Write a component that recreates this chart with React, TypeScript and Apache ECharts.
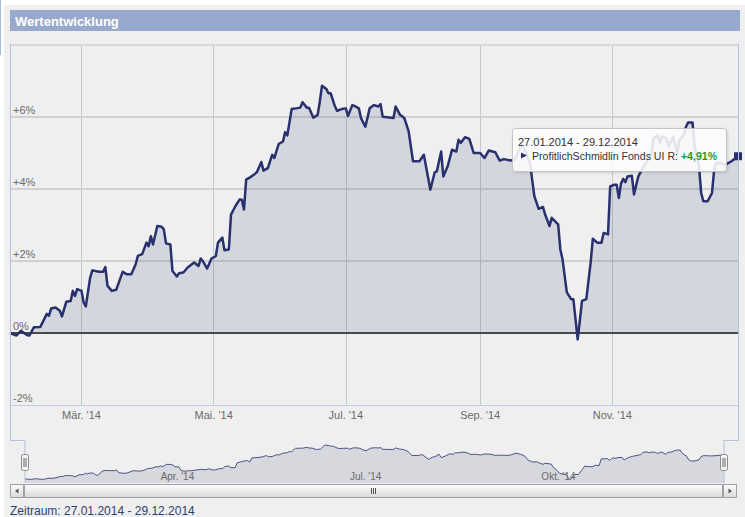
import React, { useEffect, useRef } from 'react';
import * as echarts from 'echarts';

const startDate = '2014-01-27';
const endDate = '2014-12-29';

const dates = [
  '2014-01-27','2014-01-30','2014-02-01','2014-02-04','2014-02-05','2014-02-07','2014-02-10','2014-02-13','2014-02-14','2014-02-15',
  '2014-02-17','2014-02-19','2014-02-20','2014-02-22','2014-02-24','2014-02-25','2014-02-26','2014-02-27','2014-03-01','2014-03-02',
  '2014-03-03','2014-03-05','2014-03-06','2014-03-09','2014-03-11','2014-03-12','2014-03-13','2014-03-15','2014-03-17','2014-03-20',
  '2014-03-22','2014-03-24','2014-03-26','2014-03-27','2014-03-29','2014-03-31','2014-04-01','2014-04-02','2014-04-03','2014-04-05',
  '2014-04-07','2014-04-08','2014-04-09','2014-04-11','2014-04-12','2014-04-14','2014-04-15','2014-04-17','2014-04-19','2014-04-22',
  '2014-04-24','2014-04-25','2014-04-26','2014-04-28','2014-04-30','2014-05-02','2014-05-03','2014-05-05','2014-05-06','2014-05-08',
  '2014-05-09','2014-05-11','2014-05-13','2014-05-14','2014-05-15','2014-05-16','2014-05-18','2014-05-20','2014-05-21','2014-05-23',
  '2014-05-24','2014-05-26','2014-05-28','2014-05-29','2014-05-31','2014-06-02','2014-06-03','2014-06-04','2014-06-06','2014-06-08',
  '2014-06-10','2014-06-11','2014-06-13','2014-06-14','2014-06-16','2014-06-18','2014-06-19','2014-06-20','2014-06-22','2014-06-23',
  '2014-06-24','2014-06-26','2014-06-27','2014-06-29','2014-07-01','2014-07-02','2014-07-04','2014-07-05','2014-07-07','2014-07-08',
  '2014-07-10','2014-07-12','2014-07-14','2014-07-16','2014-07-17','2014-07-18','2014-07-23','2014-07-24','2014-07-26','2014-07-28',
  '2014-07-30','2014-08-01','2014-08-04','2014-08-06','2014-08-09','2014-08-11','2014-08-12','2014-08-14','2014-08-15','2014-08-17',
  '2014-08-19','2014-08-21','2014-08-22','2014-08-23','2014-08-25','2014-08-27','2014-08-29','2014-09-01','2014-09-03','2014-09-05',
  '2014-09-08','2014-09-10','2014-09-12','2014-09-15','2014-09-17','2014-09-20','2014-09-22','2014-09-24','2014-09-26','2014-09-28',
  '2014-09-30','2014-10-01','2014-10-03','2014-10-04','2014-10-07','2014-10-08','2014-10-09','2014-10-11','2014-10-13','2014-10-14',
  '2014-10-15','2014-10-16','2014-10-17','2014-10-18','2014-10-20','2014-10-22','2014-10-23','2014-10-25','2014-10-27','2014-10-28',
  '2014-10-30','2014-10-31','2014-11-02','2014-11-03','2014-11-04','2014-11-05','2014-11-06','2014-11-07','2014-11-08','2014-11-10',
  '2014-11-11','2014-11-13','2014-11-15','2014-11-19','2014-11-20','2014-11-22','2014-11-23','2014-11-24','2014-11-26','2014-11-27',
  '2014-11-29','2014-12-01','2014-12-02','2014-12-04','2014-12-05','2014-12-06','2014-12-08','2014-12-09','2014-12-11','2014-12-12',
  '2014-12-13','2014-12-15','2014-12-17','2014-12-18','2014-12-19','2014-12-21','2014-12-23','2014-12-26','2014-12-29',
];

const values = [
  0.00, -0.07, 0.06, -0.06, -0.07, 0.16, 0.17, 0.53, 0.48, 0.68,
  0.71, 0.62, 0.46, 0.87, 0.89, 1.17, 1.03, 1.22, 1.17, 0.85,
  0.74, 1.54, 1.74, 1.70, 1.70, 1.83, 1.31, 1.17, 1.20, 1.70,
  1.63, 1.63, 1.91, 2.14, 2.19, 2.51, 2.41, 2.69, 2.46, 2.97,
  2.95, 2.88, 2.49, 2.46, 1.72, 1.57, 1.66, 1.68, 1.82, 1.96,
  1.86, 2.07, 2.00, 1.79, 2.07, 2.14, 2.51, 2.65, 2.30, 2.32,
  3.29, 3.52, 3.71, 3.70, 3.43, 4.26, 4.33, 4.42, 4.47, 4.75,
  4.51, 4.58, 4.95, 4.86, 5.25, 5.32, 5.58, 5.49, 6.22, 6.24,
  6.26, 6.41, 6.26, 6.26, 5.98, 6.06, 6.43, 6.87, 6.78, 6.66,
  6.66, 6.29, 6.17, 6.22, 6.24, 6.03, 6.33, 6.31, 6.24, 5.97,
  5.73, 6.24, 6.33, 6.29, 6.36, 6.01, 5.97, 6.29, 6.06, 5.97,
  5.60, 4.77, 4.77, 4.95, 3.98, 4.46, 4.49, 5.04, 4.35, 4.63,
  5.09, 5.04, 5.37, 5.28, 5.44, 5.39, 5.00, 5.00, 4.86, 5.07,
  5.02, 4.79, 4.83, 4.79, 4.81, 5.23, 5.04, 4.72, 3.80, 3.45,
  3.50, 3.29, 2.97, 3.20, 3.02, 2.32, 2.05, 1.13, 0.94, 0.94,
  0.39, -0.18, 0.34, 0.89, 0.94, 1.96, 2.62, 2.51, 2.51, 2.78,
  2.74, 4.07, 4.12, 4.12, 3.75, 4.15, 4.28, 4.19, 4.35, 4.37,
  3.85, 4.35, 4.58, 4.95, 5.41, 5.50, 5.28, 5.46, 5.41, 5.18,
  5.46, 5.00, 5.37, 5.50, 5.73, 5.85, 5.85, 5.18, 4.63, 3.89,
  3.66, 3.66, 3.89, 4.54, 4.72, 4.72, 4.67, 4.77, 4.91,
];

const monthTicks = ['2014-03-01', '2014-05-01', '2014-07-01', '2014-09-01', '2014-11-01'];
const monthLabels = ["Mär. '14", "Mai. '14", "Jul. '14", "Sep. '14", "Nov. '14"];
const navTicks = ['2014-04-01', '2014-07-01', '2014-10-01'];
const navLabels = ["Apr. '14", "Jul. '14", "Okt. '14"];

const titleText = 'Wertentwicklung';
const seriesName = 'ProfitlichSchmidlin Fonds UI R';
const periodText = '27.01.2014 - 29.12.2014';

const FONT = '"Liberation Sans", Arial, Helvetica, sans-serif';
const NAVY = '#28306e';

export default function App() {
  const ref = useRef<HTMLDivElement>(null);

  useEffect(() => {
    if (!ref.current) return;
    const chart = echarts.init(ref.current, null, { renderer: 'svg' });
    const data = dates.map((d, i) => [d, values[i]]);
    const lastValue = values[values.length - 1];
    const lastText = (lastValue >= 0 ? '+' : '') + lastValue.toFixed(2).replace('.', ',') + '%';

    const gridMarkLines: any[] = monthTicks.map((d, i) => [
      { coord: [d, -2], name: monthLabels[i] },
      { coord: [d, 8] },
    ]);
    gridMarkLines.push([
      { coord: [startDate, 0], name: '', lineStyle: { color: '#4a4a4a', width: 2 }, label: { show: false } },
      { coord: [endDate, 0] },
    ]);

    const btnGrad = new echarts.graphic.LinearGradient(0, 0, 0, 1, [
      { offset: 0, color: '#fdfdfd' },
      { offset: 1, color: '#d9d9d9' },
    ]);

    const option: any = {
      animation: false,
      backgroundColor: '#eeefee',
      textStyle: { fontFamily: FONT },
      grid: [
        { left: 10, top: 45, width: 728, height: 360, show: false },
        { left: 25, top: 440, width: 699, height: 43, show: false },
      ],
      xAxis: [
        {
          type: 'time', gridIndex: 0, min: startDate, max: endDate,
          axisLine: { show: false }, axisTick: { show: false }, axisLabel: { show: false }, splitLine: { show: false },
        },
        {
          type: 'time', gridIndex: 1, min: startDate, max: endDate,
          axisLine: { show: false }, axisTick: { show: false }, axisLabel: { show: false }, splitLine: { show: false },
        },
      ],
      yAxis: [
        {
          type: 'value', gridIndex: 0, min: -2, max: 8, interval: 2,
          axisLine: { show: false }, axisTick: { show: false },
          axisLabel: {
            inside: true, margin: 3, color: '#6b6b6b', fontSize: 11, fontFamily: FONT,
            verticalAlign: 'bottom', padding: [0, 0, 2, 0],
            formatter: (v: number) => (v === 8 ? '' : (v > 0 ? '+' : '') + v + '%'),
          },
          splitLine: { show: true, showMinLine: false, showMaxLine: false, lineStyle: { color: '#d0d1d0', width: 2 } },
        },
        {
          type: 'value', gridIndex: 1, min: -0.8, max: 7.9,
          axisLine: { show: false }, axisTick: { show: false }, axisLabel: { show: false }, splitLine: { show: false },
        },
      ],
      series: [
        {
          type: 'line', name: seriesName, xAxisIndex: 0, yAxisIndex: 0, data,
          showSymbol: false, z: 3,
          lineStyle: { color: NAVY, width: 2.5, join: 'round' },
          itemStyle: { color: NAVY },
          areaStyle: { color: NAVY, opacity: 0.13, origin: 0 },
          markLine: {
            silent: true, symbol: 'none', z: 1,
            lineStyle: { color: '#c6c7c8', width: 1, type: 'solid' },
            label: { show: true, position: 'start', distance: 4, color: '#6b6b6b', fontSize: 11, fontFamily: FONT, formatter: (p: any) => p.name },
            data: gridMarkLines,
          },
          markPoint: {
            silent: true,
            data: [{ coord: [endDate, lastValue], symbol: 'rect', symbolSize: 8, itemStyle: { color: NAVY }, label: { show: false } }],
          },
        },
        {
          type: 'line', xAxisIndex: 1, yAxisIndex: 1, data,
          showSymbol: false, silent: true,
          lineStyle: { color: '#4d5289', width: 1 },
          areaStyle: { color: NAVY, opacity: 0.12, origin: 'start' },
          markPoint: {
            silent: true,
            symbol: 'rect', symbolSize: 1,
            itemStyle: { color: 'rgba(0,0,0,0)' },
            label: { show: true, position: 'right', distance: 2, color: '#6b6b6b', fontSize: 10, fontFamily: FONT, formatter: (p: any) => p.name },
            data: navTicks.map((d, i) => ({ coord: [d, 0.6], name: navLabels[i] })),
          },
        },
      ],
      graphic: [
        // page edges
        { type: 'rect', z: 50, shape: { x: 0, y: 0, width: 745, height: 5 }, style: { fill: '#ffffff' }, silent: true },
        { type: 'rect', z: 50, shape: { x: 0, y: 0, width: 4, height: 517 }, style: { fill: '#ffffff' }, silent: true },
        { type: 'line', z: 51, shape: { x1: 0.5, y1: 0, x2: 0.5, y2: 55 }, style: { stroke: '#a9bbdc', lineWidth: 1 }, silent: true },
        // title bar
        { type: 'rect', z: 50, shape: { x: 10, y: 10, width: 730, height: 21 }, style: { fill: '#99a9cd' }, silent: true },
        { type: 'text', z: 51, x: 15, y: 21, style: { text: titleText, fill: '#ffffff', font: `bold 13px ${FONT}`, verticalAlign: 'middle' }, silent: true },
        // plot frame
        { type: 'line', z: 20, shape: { x1: 10, y1: 45, x2: 738, y2: 45 }, style: { stroke: '#d0d1d0', lineWidth: 1.5 }, silent: true },
        { type: 'line', z: 20, shape: { x1: 10.5, y1: 44, x2: 10.5, y2: 441 }, style: { stroke: '#b3c1de', lineWidth: 1 }, silent: true },
        { type: 'line', z: 20, shape: { x1: 738.5, y1: 44, x2: 738.5, y2: 441 }, style: { stroke: '#b3c1de', lineWidth: 1 }, silent: true },
        { type: 'line', z: 20, shape: { x1: 10, y1: 405.5, x2: 738, y2: 405.5 }, style: { stroke: '#c0cce6', lineWidth: 1 }, silent: true },
        // navigator outline
        { type: 'polyline', z: 20, shape: { points: [[10, 440.5], [25, 440.5], [25, 483]] }, style: { stroke: '#b3c1de', lineWidth: 1, fill: null }, silent: true },
        { type: 'polyline', z: 20, shape: { points: [[738, 440.5], [724, 440.5], [724, 483]] }, style: { stroke: '#b3c1de', lineWidth: 1, fill: null }, silent: true },
        // navigator handles
        { type: 'rect', z: 30, shape: { x: 21.5, y: 454.5, width: 7, height: 16, r: 2 }, style: { fill: '#f4f4f4', stroke: '#8a8a8a', lineWidth: 1 }, silent: true },
        { type: 'line', z: 31, shape: { x1: 24, y1: 458, x2: 24, y2: 467 }, style: { stroke: '#666', lineWidth: 1 }, silent: true },
        { type: 'line', z: 31, shape: { x1: 26, y1: 458, x2: 26, y2: 467 }, style: { stroke: '#666', lineWidth: 1 }, silent: true },
        { type: 'rect', z: 30, shape: { x: 720.5, y: 454.5, width: 7, height: 16, r: 2 }, style: { fill: '#f4f4f4', stroke: '#8a8a8a', lineWidth: 1 }, silent: true },
        { type: 'line', z: 31, shape: { x1: 723, y1: 458, x2: 723, y2: 467 }, style: { stroke: '#666', lineWidth: 1 }, silent: true },
        { type: 'line', z: 31, shape: { x1: 725, y1: 458, x2: 725, y2: 467 }, style: { stroke: '#666', lineWidth: 1 }, silent: true },
        // scrollbar
        { type: 'rect', z: 30, shape: { x: 10.5, y: 484.5, width: 726, height: 13 }, style: { fill: '#eeeeee', stroke: '#b5b5b5', lineWidth: 1 }, silent: true },
        { type: 'rect', z: 31, shape: { x: 24.5, y: 484.5, width: 698, height: 13 }, style: { fill: btnGrad, stroke: '#a0a0a0', lineWidth: 1 }, silent: true },
        { type: 'rect', z: 31, shape: { x: 10.5, y: 484.5, width: 13, height: 13 }, style: { fill: btnGrad, stroke: '#a0a0a0', lineWidth: 1 }, silent: true },
        { type: 'polygon', z: 32, shape: { points: [[15, 491], [18.5, 488.5], [18.5, 493.5]] }, style: { fill: '#555' }, silent: true },
        { type: 'rect', z: 31, shape: { x: 723.5, y: 484.5, width: 13, height: 13 }, style: { fill: btnGrad, stroke: '#a0a0a0', lineWidth: 1 }, silent: true },
        { type: 'polygon', z: 32, shape: { points: [[732, 491], [728.5, 488.5], [728.5, 493.5]] }, style: { fill: '#555' }, silent: true },
        { type: 'line', z: 32, shape: { x1: 371.5, y1: 488, x2: 371.5, y2: 494 }, style: { stroke: '#555', lineWidth: 1 }, silent: true },
        { type: 'line', z: 32, shape: { x1: 373.5, y1: 488, x2: 373.5, y2: 494 }, style: { stroke: '#555', lineWidth: 1 }, silent: true },
        { type: 'line', z: 32, shape: { x1: 375.5, y1: 488, x2: 375.5, y2: 494 }, style: { stroke: '#555', lineWidth: 1 }, silent: true },
        // footer
        { type: 'text', z: 30, x: 10, y: 511, style: { text: 'Zeitraum: ' + periodText, fill: '#2d3f72', font: `12px ${FONT}`, verticalAlign: 'middle' }, silent: true },
        // tooltip box
        {
          type: 'rect', z: 60, shape: { x: 512.5, y: 128.5, width: 214, height: 43, r: 3 },
          style: { fill: 'rgba(255,255,255,0.86)', stroke: '#c4c4c4', lineWidth: 1, shadowBlur: 3, shadowOffsetX: 1, shadowOffsetY: 1, shadowColor: 'rgba(0,0,0,0.15)' },
          silent: true,
        },
        { type: 'text', z: 61, x: 518, y: 141.5, style: { text: periodText, fill: '#333333', font: `11px ${FONT}`, verticalAlign: 'middle' }, silent: true },
        { type: 'polygon', z: 61, shape: { points: [[521, 152.5], [527, 155.5], [521, 158.5]] }, style: { fill: NAVY }, silent: true },
        {
          type: 'text', z: 61, x: 532, y: 156,
          style: {
            text: '{a|' + seriesName + ': }{b|' + lastText + '}',
            verticalAlign: 'middle',
            font: `10.6px ${FONT}`,
            rich: {
              a: { fill: '#333333', fontSize: 10.6, fontFamily: FONT },
              b: { fill: '#1f9a24', fontSize: 10.6, fontFamily: FONT, fontWeight: 'bold' },
            },
          },
          silent: true,
        },
      ],
    };

    chart.setOption(option);
    return () => chart.dispose();
  }, []);

  return <div ref={ref} style={{ position: 'absolute', left: 0, top: 0, width: 745, height: 517 }} />;
}
